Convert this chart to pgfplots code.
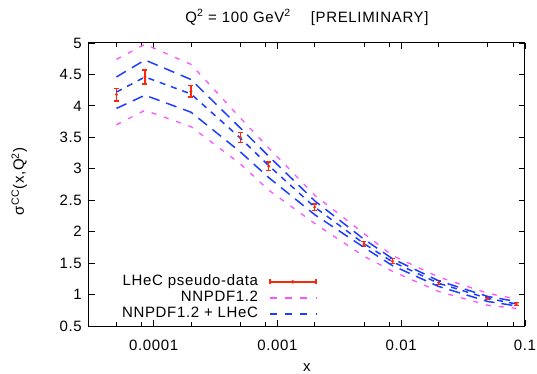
\documentclass[border=0pt]{standalone}
\usepackage{fontspec}
\setmainfont{Liberation Sans}[LetterSpace=4.5]
\usepackage{pgfplots}
\pgfplotsset{compat=1.18}
\usepackage{pgfplotstable}
\definecolor{datared}{rgb}{0.98,0.16,0.04}
\definecolor{nnmag}{rgb}{1,0.32,1}
\definecolor{nnblue}{rgb}{0.12,0.24,1}

\pgfplotstableread{
x       c     bu    bl    mu    ml
5e-5    4.22  4.46  3.96  4.74  3.70
8.5e-5  4.46  4.73  4.17  4.98  3.93
2e-4    4.19  4.42  3.90  4.66  3.67
5e-4    3.49  3.65  3.27  3.81  3.08
8.5e-4  3.05  3.20  2.86  3.33  2.66
2e-3    2.39  2.49  2.27  2.58  2.13
5e-3    1.81  1.88  1.75  1.97  1.61
8.5e-3  1.52  1.57  1.46  1.62  1.37
2e-2    1.18  1.22  1.13  1.28  1.05
5e-2    0.94  0.97  0.89  1.02  0.83
8.5e-2  0.85  0.89  0.82  0.93  0.78
}\bands

\pgfplotstableread{
x       y     e
5e-5    4.18  0.10
8.5e-5  4.46  0.11
2e-4    4.23  0.09
5e-4    3.50  0.08
8.5e-4  3.04  0.07
2e-3    2.39  0.05
5e-3    1.80  0.04
8.5e-3  1.53  0.04
2e-2    1.19  0.03
5e-2    0.94  0.02
8.5e-2  0.85  0.02
}\lhec

\begin{document}
\fontsize{15bp}{18bp}\selectfont
\begin{tikzpicture}
\path[use as bounding box] (0,0) rectangle (537bp,374bp);
\begin{axis}[
  at={(89bp,48bp)}, anchor=south west,
  scale only axis, width=436bp, height=283bp,
  xmode=log, xmin=3e-5, xmax=0.1, ymin=0.5, ymax=5,
  xtick={1e-4,1e-3,1e-2,1e-1}, xticklabels={0.0001,0.001,0.01,0.1},
  minor xtick={5e-5,8e-5,2e-4,5e-4,8e-4,2e-3,5e-3,8e-3,2e-2,5e-2,8e-2},
  ytick={0.5,1,1.5,2,2.5,3,3.5,4,4.5,5},
  yticklabels={0.5,1,1.5,2,2.5,3,3.5,4,4.5,5},
  axis line style={line width=1bp},
  major tick length=6bp, minor tick length=4bp,
  every tick/.style={black, line width=0.8bp},
  xticklabel style={anchor=base, yshift=-24.5bp, inner sep=0pt},
  yticklabel style={anchor=east, inner sep=0pt, xshift=-7bp},
  title={Q\textsuperscript{2} = 100 GeV\textsuperscript{2}\hspace{20bp}[PRELIMINARY]},
  title style={at={(axis description cs:0.5,1)}, anchor=base, yshift=15bp, inner sep=0pt},
  xlabel={x},
  xlabel style={at={(axis description cs:0.5,-0.1625)}, anchor=base, inner sep=0pt},
  ylabel={σ\textsuperscript{CC}(x,Q\textsuperscript{2})},
  ylabel style={at={(axis description cs:-0.1491,0.5106)}, anchor=base, inner sep=0pt},
  legend plot pos=right, legend cell align=right,
  legend style={draw=none, fill=none, at={(axis description cs:0.522,0.1845)}, anchor=north east,
    inner sep=0pt, outer sep=0pt, row sep=0pt, column sep=11bp,
    nodes={inner sep=0pt, text height=11.5bp, text depth=4.5bp}},
]
\addplot[color=datared, only marks, mark=*, mark size=1.3bp, mark options={solid, draw=datared, fill=datared},
  legend image code/.code={%
    \draw[color=datared, line width=1.5bp, solid] (0bp,0bp) -- (46bp,0bp);
    \draw[color=datared, line width=1.5bp, solid] (0bp,-2.5bp) -- (0bp,2.5bp);
    \draw[color=datared, line width=1.5bp, solid] (46bp,-2.5bp) -- (46bp,2.5bp);
    \fill[color=datared] (23bp,0bp) circle (1.6bp);},
  error bars/.cd, y dir=both, y explicit,
  error bar style={line width=1.4bp, color=datared, solid},
  error mark options={rotate=90, color=datared, line width=1.4bp, mark size=2.5bp, solid}]
  table[x=x, y=y, y error=e]{\lhec};
\addlegendentry{LHeC pseudo-data}

\addplot[color=nnmag, line width=1.3bp, dash pattern=on 5bp off 8bp,
  legend image code/.code={\draw[color=nnmag, line width=1.5bp, dash pattern=on 7bp off 8.3bp] (0bp,0bp) -- (46bp,0bp);}]
  table[x=x, y=mu]{\bands};
\addlegendentry{NNPDF1.2}
\addplot[color=nnmag, line width=1.3bp, dash pattern=on 5bp off 8bp, forget plot]
  table[x=x, y=ml]{\bands};

\addplot[color=nnblue, line width=1.5bp, dash pattern=on 6bp off 6bp,
  legend image code/.code={\draw[color=nnblue, line width=1.5bp, dash pattern=on 7bp off 8.3bp] (0bp,0bp) -- (46bp,0bp);}]
  table[x=x, y=c]{\bands};
\addlegendentry{NNPDF1.2 + LHeC}
\addplot[color=nnblue, line width=1.5bp, dash pattern=on 11bp off 7bp, forget plot]
  table[x=x, y=bu]{\bands};
\addplot[color=nnblue, line width=1.5bp, dash pattern=on 11bp off 7bp, forget plot]
  table[x=x, y=bl]{\bands};
\end{axis}
\end{tikzpicture}
\end{document}
